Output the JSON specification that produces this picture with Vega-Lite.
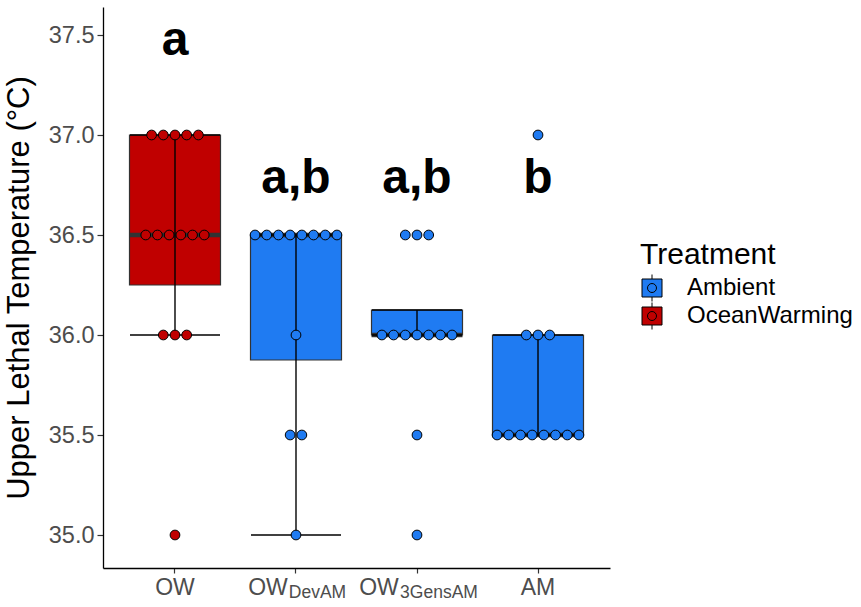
{
  "$schema": "https://vega.github.io/schema/vega-lite/v6.json",
  "width": 507,
  "height": 561,
  "autosize": "none",
  "padding": {"left": 103, "top": 7, "right": 251, "bottom": 39},
  "background": "white",
  "config": {"view": {"stroke": null}, "font": "Liberation Sans"},
  "datasets": {
    "obs": [
      {"group": "OW", "treatment": "OceanWarming", "value": 37.0},
      {"group": "OW", "treatment": "OceanWarming", "value": 37.0},
      {"group": "OW", "treatment": "OceanWarming", "value": 37.0},
      {"group": "OW", "treatment": "OceanWarming", "value": 37.0},
      {"group": "OW", "treatment": "OceanWarming", "value": 37.0},
      {"group": "OW", "treatment": "OceanWarming", "value": 36.5},
      {"group": "OW", "treatment": "OceanWarming", "value": 36.5},
      {"group": "OW", "treatment": "OceanWarming", "value": 36.5},
      {"group": "OW", "treatment": "OceanWarming", "value": 36.5},
      {"group": "OW", "treatment": "OceanWarming", "value": 36.5},
      {"group": "OW", "treatment": "OceanWarming", "value": 36.5},
      {"group": "OW", "treatment": "OceanWarming", "value": 36.0},
      {"group": "OW", "treatment": "OceanWarming", "value": 36.0},
      {"group": "OW", "treatment": "OceanWarming", "value": 36.0},
      {"group": "OW", "treatment": "OceanWarming", "value": 35.0},
      {"group": "OW_DevAM", "treatment": "Ambient", "value": 36.5},
      {"group": "OW_DevAM", "treatment": "Ambient", "value": 36.5},
      {"group": "OW_DevAM", "treatment": "Ambient", "value": 36.5},
      {"group": "OW_DevAM", "treatment": "Ambient", "value": 36.5},
      {"group": "OW_DevAM", "treatment": "Ambient", "value": 36.5},
      {"group": "OW_DevAM", "treatment": "Ambient", "value": 36.5},
      {"group": "OW_DevAM", "treatment": "Ambient", "value": 36.5},
      {"group": "OW_DevAM", "treatment": "Ambient", "value": 36.5},
      {"group": "OW_DevAM", "treatment": "Ambient", "value": 36.0},
      {"group": "OW_DevAM", "treatment": "Ambient", "value": 35.5},
      {"group": "OW_DevAM", "treatment": "Ambient", "value": 35.5},
      {"group": "OW_DevAM", "treatment": "Ambient", "value": 35.0},
      {"group": "OW_3GensAM", "treatment": "Ambient", "value": 36.5},
      {"group": "OW_3GensAM", "treatment": "Ambient", "value": 36.5},
      {"group": "OW_3GensAM", "treatment": "Ambient", "value": 36.5},
      {"group": "OW_3GensAM", "treatment": "Ambient", "value": 36.0},
      {"group": "OW_3GensAM", "treatment": "Ambient", "value": 36.0},
      {"group": "OW_3GensAM", "treatment": "Ambient", "value": 36.0},
      {"group": "OW_3GensAM", "treatment": "Ambient", "value": 36.0},
      {"group": "OW_3GensAM", "treatment": "Ambient", "value": 36.0},
      {"group": "OW_3GensAM", "treatment": "Ambient", "value": 36.0},
      {"group": "OW_3GensAM", "treatment": "Ambient", "value": 36.0},
      {"group": "OW_3GensAM", "treatment": "Ambient", "value": 35.5},
      {"group": "OW_3GensAM", "treatment": "Ambient", "value": 35.0},
      {"group": "AM", "treatment": "Ambient", "value": 37.0},
      {"group": "AM", "treatment": "Ambient", "value": 36.0},
      {"group": "AM", "treatment": "Ambient", "value": 36.0},
      {"group": "AM", "treatment": "Ambient", "value": 36.0},
      {"group": "AM", "treatment": "Ambient", "value": 35.5},
      {"group": "AM", "treatment": "Ambient", "value": 35.5},
      {"group": "AM", "treatment": "Ambient", "value": 35.5},
      {"group": "AM", "treatment": "Ambient", "value": 35.5},
      {"group": "AM", "treatment": "Ambient", "value": 35.5},
      {"group": "AM", "treatment": "Ambient", "value": 35.5},
      {"group": "AM", "treatment": "Ambient", "value": 35.5},
      {"group": "AM", "treatment": "Ambient", "value": 35.5}
    ],
    "boxes": [
      {"group": "OW", "treatment": "OceanWarming", "lower": 36.0, "q1": 36.25, "median": 36.5, "q3": 37.0, "upper": 37.0},
      {"group": "OW_DevAM", "treatment": "Ambient", "lower": 35.0, "q1": 35.875, "median": 36.5, "q3": 36.5, "upper": 36.5},
      {"group": "OW_3GensAM", "treatment": "Ambient", "lower": 36.0, "q1": 36.0, "median": 36.0, "q3": 36.125, "upper": 36.125},
      {"group": "AM", "treatment": "Ambient", "lower": 35.5, "q1": 35.5, "median": 35.5, "q3": 36.0, "upper": 36.0}
    ],
    "letters": [
      {"group": "OW", "label": "a", "level": 37.4},
      {"group": "OW_DevAM", "label": "a,b", "level": 36.71},
      {"group": "OW_3GensAM", "label": "a,b", "level": 36.71},
      {"group": "AM", "label": "b", "level": 36.71}
    ]
  },
  "resolve": {"axis": {"x": "independent"}},
  "layer": [
    {
      "data": {"name": "boxes"},
      "mark": {"type": "bar", "stroke": "#333333", "strokeWidth": 1.2, "width": 91},
      "encoding": {
        "x": {
          "field": "group", "type": "nominal",
          "sort": ["OW", "OW_DevAM", "OW_3GensAM", "AM"],
          "scale": {"type": "band", "paddingInner": 0, "paddingOuter": 0.095},
          "axis": {
            "title": null, "orient": "bottom",
            "labelExpr": "datum.value == 'AM' ? 'AM' : 'OW'",
            "labelFontSize": 23, "labelColor": "#4D4D4D", "labelAngle": 0,
            "labelPadding": 3, "tickSize": 5, "tickColor": "#333333", "tickWidth": 1.2,
            "domainColor": "black", "domainWidth": 1.3,
            "labelOffset": {"condition": [{"test": "datum.value == 'OW_DevAM'", "value": -28}, {"test": "datum.value == 'OW_3GensAM'", "value": -38}], "value": 0}
          }
        },
        "y": {
          "field": "q1", "type": "quantitative",
          "scale": {"domain": [34.835, 37.64], "nice": false, "zero": false},
          "axis": {
            "title": "Upper Lethal Temperature (°C)",
            "values": [35, 35.5, 36, 36.5, 37, 37.5], "format": ".1f",
            "grid": false, "labelFontSize": 23.5, "labelColor": "#4D4D4D", "labelPadding": 3,
            "tickSize": 6, "tickColor": "#333333", "tickWidth": 1.2,
            "domainColor": "black", "domainWidth": 1.3,
            "titleFontSize": 31, "titleFontWeight": "normal", "titleColor": "black", "titlePadding": 13
          }
        },
        "y2": {"field": "q3"},
        "color": {
          "field": "treatment", "type": "nominal",
          "scale": {"domain": ["Ambient", "OceanWarming"], "range": ["#1F7BF2", "#C00000"]},
          "legend": {
            "title": "Treatment", "orient": "none", "legendX": 537, "legendY": 233,
            "titleFontSize": 30, "titleFontWeight": "normal", "titleColor": "black", "titlePadding": 6,
            "labelFontSize": 24, "labelColor": "black", "labelOffset": 23, "labelLimit": 0,
            "symbolType": "M-1,-0.9H1V0.9H-1Z M0,-0.9V-1.35 M0,0.9V1.35 M-0.45,0A0.45,0.45 0 1,1 0.45,0A0.45,0.45 0 1,1 -0.45,0Z",
            "symbolSize": 400, "symbolStrokeColor": "black", "symbolStrokeWidth": 1, "symbolOpacity": 1,
            "rowPadding": -5
          }
        }
      }
    },
    {
      "data": {"name": "boxes"},
      "mark": {"type": "tick", "size": 91, "thickness": 4.5, "color": "#333333", "opacity": 1},
      "encoding": {
        "x": {"field": "group", "type": "nominal", "sort": ["OW", "OW_DevAM", "OW_3GensAM", "AM"], "axis": null},
        "y": {"field": "median", "type": "quantitative"}
      }
    },
    {
      "data": {"name": "boxes"},
      "mark": {"type": "rule", "color": "black", "strokeWidth": 1.4},
      "encoding": {
        "x": {
          "field": "group", "type": "nominal", "sort": ["OW", "OW_DevAM", "OW_3GensAM", "AM"],
          "axis": {
            "title": null, "orient": "bottom", "domain": false, "ticks": false,
            "labelExpr": "datum.value == 'OW_DevAM' ? 'DevAM' : datum.value == 'OW_3GensAM' ? '3GensAM' : ''",
            "labelFontSize": 17.5, "labelColor": "#4D4D4D", "labelAngle": 0, "labelPadding": 15,
            "labelOffset": {"condition": [{"test": "datum.value == 'OW_DevAM'", "value": 21.5}], "value": 22}
          }
        },
        "y": {"field": "lower", "type": "quantitative"},
        "y2": {"field": "upper"}
      }
    },
    {
      "data": {"name": "boxes"},
      "transform": [{"fold": ["lower", "upper"], "as": ["end", "yv"]}],
      "mark": {"type": "tick", "size": 90, "thickness": 1.4, "color": "black", "opacity": 1},
      "encoding": {
        "x": {"field": "group", "type": "nominal", "sort": ["OW", "OW_DevAM", "OW_3GensAM", "AM"], "axis": null},
        "y": {"field": "yv", "type": "quantitative"}
      }
    },
    {
      "data": {"name": "obs"},
      "transform": [
        {"window": [{"op": "count", "field": "value", "as": "unit"}], "frame": [0, 0], "ignorePeers": true},
        {"stack": "unit", "groupby": ["group", "value"], "offset": "center", "as": ["s0", "s1"]}
      ],
      "mark": {"type": "point", "shape": "circle", "filled": true, "size": 95, "stroke": "black", "strokeWidth": 1, "opacity": 1},
      "encoding": {
        "x": {"field": "group", "type": "nominal", "sort": ["OW", "OW_DevAM", "OW_3GensAM", "AM"], "axis": null},
        "xOffset": {"field": "s0", "type": "quantitative", "scale": {"domain": [-1.671, 8.671], "range": [0, 121]}},
        "y": {"field": "value", "type": "quantitative"},
        "color": {"field": "treatment", "type": "nominal", "legend": null}
      }
    },
    {
      "data": {"name": "letters"},
      "mark": {"type": "text", "fontSize": 48, "fontWeight": "bold", "baseline": "alphabetic", "align": "center", "color": "black"},
      "encoding": {
        "x": {"field": "group", "type": "nominal", "sort": ["OW", "OW_DevAM", "OW_3GensAM", "AM"], "axis": null},
        "y": {"field": "level", "type": "quantitative"},
        "text": {"field": "label"}
      }
    }
  ]
}
